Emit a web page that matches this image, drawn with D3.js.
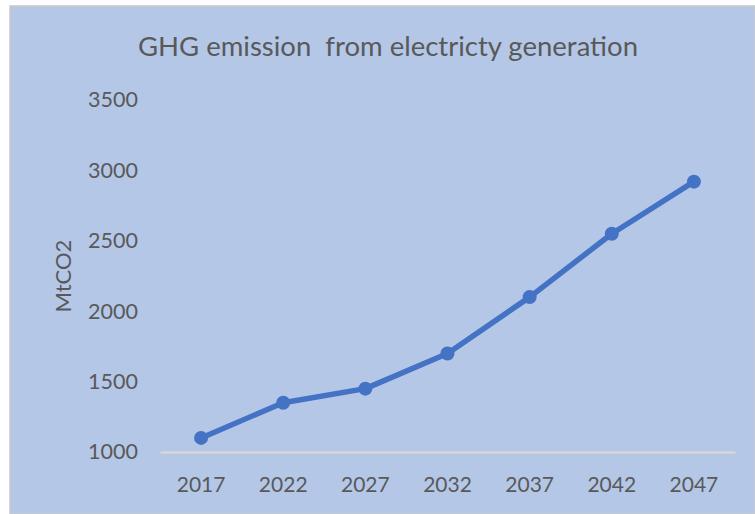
<!DOCTYPE html>
<html><head><meta charset="utf-8">
<script src="https://cdn.jsdelivr.net/npm/d3@7"></script>
<style>body{margin:0;background:#fff}svg{display:block}</style>
</head><body>
<script>
const years = ["2017","2022","2027","2032","2037","2042","2047"];
const emissions = [1100, 1350, 1450, 1700, 2100, 2550, 2920];
const yTicks = [1000, 1500, 2000, 2500, 3000, 3500];
const title = "GHG emission  from electricty generation";
const yLabel = "MtCO2";

const W = 755, H = 514;
const svg = d3.select("body").append("svg").attr("width", W).attr("height", H);
svg.append("rect").attr("x", 10).attr("y", 6).attr("width", W - 10).attr("height", H - 6)
  .attr("fill", "#b4c7e7").attr("stroke", "#c8c8c8").attr("stroke-width", 1.5);

const x = d3.scaleBand().domain(years).range([160, 735]);
const y = d3.scaleLinear().domain([1000, 3500]).range([452, 100]);
const font = "Lato, 'Open Sans', sans-serif";
const txt = "#595959";

svg.append("text").attr("x", 388).attr("y", 56).attr("text-anchor", "middle")
  .style("white-space", "pre")
  .attr("font-family", font).attr("font-size", 27.5).attr("fill", txt).text(title);

const yAxis = svg.append("g").attr("transform", "translate(160,0)")
  .call(d3.axisLeft(y).tickValues(yTicks).tickSize(0).tickPadding(22).tickFormat(d3.format("d")));
yAxis.select(".domain").remove();
yAxis.selectAll("text").attr("font-family", font).attr("font-size", 21.5).attr("fill", txt);

const xAxis = svg.append("g").attr("transform", "translate(0,452)")
  .call(d3.axisBottom(x).tickSize(0).tickPadding(25));
xAxis.select(".domain").attr("stroke", "#dedad0").attr("stroke-width", 2);
xAxis.selectAll("text").attr("font-family", font).attr("font-size", 21).attr("fill", txt);

svg.append("text").attr("transform", "translate(71,276) rotate(-90)").attr("text-anchor", "middle")
  .attr("font-family", font).attr("font-size", 22).attr("fill", txt).text(yLabel);

const pts = years.map((yr, i) => [x(yr) + x.bandwidth() / 2, y(emissions[i])]);
svg.append("path").attr("d", d3.line()(pts)).attr("fill", "none")
  .attr("stroke", "#4472c4").attr("stroke-width", 5.5).attr("stroke-linejoin", "round");
svg.selectAll("circle.m").data(pts).enter().append("circle").attr("class", "m")
  .attr("cx", d => d[0]).attr("cy", d => d[1]).attr("r", 7).attr("fill", "#4472c4");
</script>
</body></html>
